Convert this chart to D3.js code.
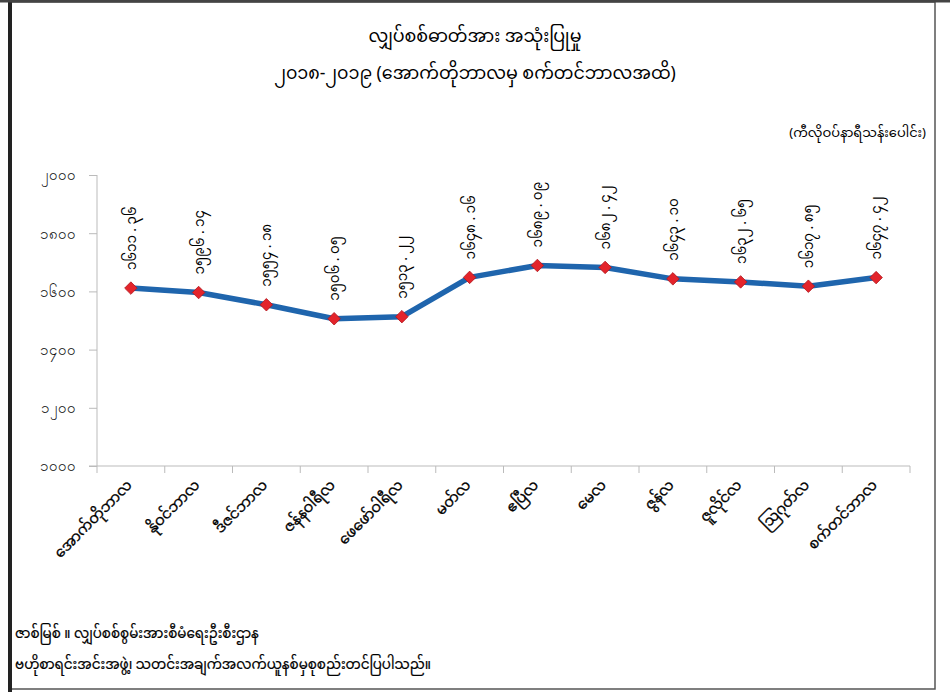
<!DOCTYPE html>
<html lang="my">
<head>
  <meta charset="UTF-8">
  <title>လျှပ်စစ်ဓာတ်အား အသုံးပြုမှု</title>
  <script src="https://d3js.org/d3.v7.min.js"></script>
  <style>
    body { margin: 0; background: #fff; }
    svg { display: block; font-family: "Noto Sans Myanmar", "Padauk", "Myanmar Text", "Noto Sans", sans-serif; }
  </style>
</head>
<body>
<svg width="950" height="692"></svg>
<script>
  const months = ["အောက်တိုဘာလ", "နိုဝင်ဘာလ", "ဒီဇင်ဘာလ", "ဇန်နဝါရီလ", "ဖေဖော်ဝါရီလ", "မတ်လ",
                  "ဧပြီလ", "မေလ", "ဇွန်လ", "ဇူလိုင်လ", "ဩဂုတ်လ", "စက်တင်ဘာလ"];
  const usage = [1611.36, 1596.14, 1554.18, 1506.05, 1513.22, 1648.16,
                 1689.09, 1682.42, 1643.10, 1632.65, 1617.85, 1647.42];
  const yTicks = [1000, 1200, 1400, 1600, 1800, 2000];

  const titleLines = ["လျှပ်စစ်ဓာတ်အား အသုံးပြုမှု", "၂၀၁၈-၂၀၁၉ (အောက်တိုဘာလမှ စက်တင်ဘာလအထိ)"];
  const unitText = "(ကီလိုဝပ်နာရီသန်းပေါင်း)";
  const sourceLines = ["ဇာစ်မြစ် ။ လျှပ်စစ်စွမ်းအားစီမံရေးဦးစီးဌာန",
                       "ဗဟိုစာရင်းအင်းအဖွဲ့၊ သတင်းအချက်အလက်ယူနစ်မှစုစည်းတင်ပြပါသည်။"];

  const mmDigits = "၀၁၂၃၄၅၆၇၈၉";
  const toMM = s => String(s).replace(/[0-9]/g, d => mmDigits[+d]);

  const svg = d3.select("svg");

  // frame
  svg.append("rect").attr("x", 10).attr("y", 2).attr("width", 925).attr("height", 687)
    .attr("fill", "none").attr("stroke", "#555").attr("stroke-width", 1.5);
  svg.append("line").attr("x1", 10).attr("x2", 10).attr("y1", 0).attr("y2", 692)
    .attr("stroke", "#222").attr("stroke-width", 4);
  svg.append("line").attr("x1", 0).attr("x2", 950).attr("y1", 1).attr("y2", 1)
    .attr("stroke", "#444").attr("stroke-width", 3);

  // titles
  svg.selectAll(".title").data(titleLines).enter().append("text")
    .attr("class", "title")
    .attr("x", 475).attr("y", (d, i) => 42 + i * 37)
    .attr("text-anchor", "middle").attr("font-size", 17.5).attr("fill", "#000")
    .text(d => d);

  svg.append("text").attr("x", 926).attr("y", 137).attr("text-anchor", "end")
    .attr("font-size", 13).attr("fill", "#000").text(unitText);

  const x = d3.scaleBand().domain(months).range([97, 910]);
  const y = d3.scaleLinear().domain([1000, 2000]).range([466, 175]);

  // y axis
  const yAxis = svg.append("g").attr("transform", "translate(97,0)")
    .call(d3.axisLeft(y).tickValues(yTicks).tickSize(8).tickFormat(d => toMM(d)));
  yAxis.select(".domain").attr("stroke", "#bbb").attr("d", "M0,175V466");
  yAxis.selectAll(".tick line").attr("stroke", "#bbb");
  yAxis.selectAll(".tick text").attr("x", -21).attr("font-size", 15).attr("fill", "#111")
    .style("font-family", "inherit");

  // x axis: ticks between categories
  const xAxis = svg.append("g").attr("transform", "translate(0,466)");
  xAxis.append("line").attr("x1", 89).attr("x2", 910).attr("stroke", "#bbb");
  const bounds = months.map(m => x(m)).concat([x.range()[1]]);
  xAxis.selectAll(".xt").data(bounds).enter().append("line")
    .attr("class", "xt").attr("x1", d => d).attr("x2", d => d).attr("y1", 0).attr("y2", 7)
    .attr("stroke", "#bbb");
  xAxis.selectAll(".xl").data(months).enter().append("text")
    .attr("class", "xl")
    .attr("transform", d => `translate(${x(d) + x.bandwidth() / 2 + 2},${20}) rotate(-45)`)
    .attr("text-anchor", "end").attr("font-size", 14.5).attr("fill", "#000")
    .attr("stroke", "#000").attr("stroke-width", 0.3)
    .text(d => d);

  const cx = (d, i) => x(months[i]) + x.bandwidth() / 2;

  // line
  const line = d3.line().x((d, i) => cx(d, i)).y(d => y(d));
  svg.append("path").datum(usage).attr("d", line)
    .attr("fill", "none").attr("stroke", "#1f65ad").attr("stroke-width", 5.5)
    .attr("stroke-linejoin", "round");

  // markers
  svg.selectAll(".pt").data(usage).enter().append("path")
    .attr("class", "pt")
    .attr("d", d3.symbol(d3.symbolDiamond2, 100))
    .attr("transform", (d, i) => `translate(${cx(d, i)},${y(d)})`)
    .attr("fill", "#e3242b").attr("stroke", "#b0181e").attr("stroke-width", 0.8);

  // value labels
  svg.selectAll(".vl").data(usage).enter().append("text")
    .attr("class", "vl")
    .attr("transform", (d, i) => `translate(${cx(d, i) + 5},${y(d) - 18}) rotate(-90)`)
    .attr("text-anchor", "start").attr("font-size", 13.5).attr("fill", "#000")
    .text(d => toMM(d.toFixed(2)).replace(".", " . "));

  // source
  svg.selectAll(".src").data(sourceLines).enter().append("text")
    .attr("class", "src")
    .attr("x", 15).attr("y", (d, i) => 638 + i * 31)
    .attr("font-size", 13.5).attr("fill", "#000")
    .attr("stroke", "#000").attr("stroke-width", 0.2)
    .text(d => d);
</script>
</body>
</html>
